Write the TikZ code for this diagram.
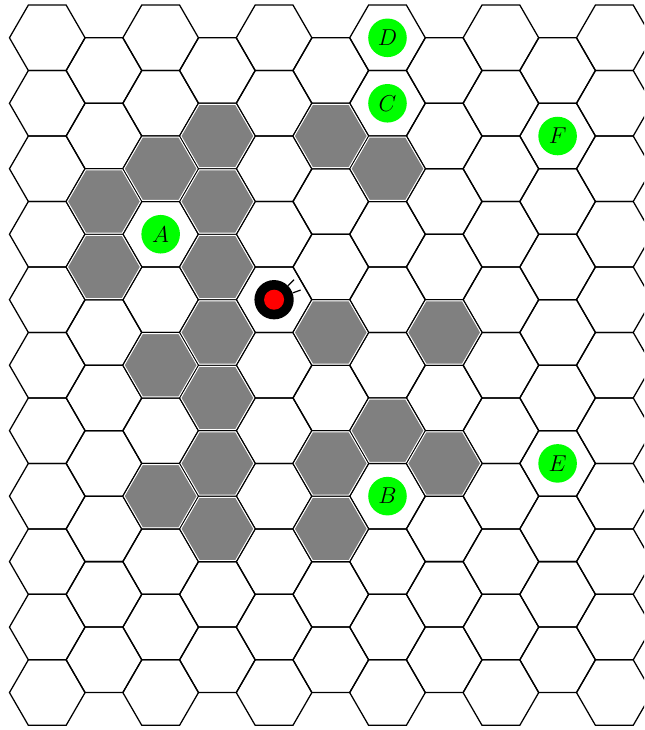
\documentclass[tikz,border=0pt]{standalone}
\usepackage{tikz}
\usetikzlibrary{shapes.geometric}

\begin{document}
\begin{tikzpicture}[
    y=-1cm,
    cell/.style={regular polygon, regular polygon sides=6, draw, line width=0.95pt, minimum size=2cm, inner sep=0pt},
    wall/.style={regular polygon, regular polygon sides=6, fill=gray, draw=white, line width=0.7pt, minimum size=1.93cm, inner sep=0pt},
    goal/.style={circle, fill=green, minimum size=1.02cm, inner sep=0pt, font=\LARGE},
    whisker/.style={line width=0.9pt}
]
    \clip (0,0) rectangle (17.04,19.31);
    \useasboundingbox (0,0) rectangle (17.04,19.31);

    % grid of cells, odd columns shifted down by half a cell
    \foreach \i in {0,...,10} {
        \pgfmathtruncatemacro{\last}{10-mod(\i,2)}
        \foreach \r in {0,...,\last}
            \node[cell] (h-\i-\r) at ({1.25+1.5*\i}, {1+0.866*mod(\i,2)+1.732*\r}) {};
    }

    % blocked cells
    \foreach \i/\r in {3/1, 2/2, 1/2, 3/2, 1/3, 3/3, 5/1, 6/2, 5/4, 7/4,
                       3/4, 2/5, 3/5, 6/6, 7/6, 5/6, 3/6, 2/7, 3/7, 5/7}
        \node[wall] (w-\i-\r) at (h-\i-\r) {};

    % goals
    \node[goal] (goalA) at (h-2-3) {$A$};
    \node[goal] (goalB) at (h-6-7) {$B$};
    \node[goal] (goalC) at (h-6-1) {$C$};
    \node[goal] (goalD) at (h-6-0) {$D$};
    \node[goal] (goalE) at (h-9-6) {$E$};
    \node[goal] (goalF) at (h-9-1) {$F$};

    % robot (y axis points down, so the angles are negative)
    \node[circle, fill=black, minimum size=1.04cm, inner sep=0pt] (robot) at (h-4-4) {};
    \node[circle, fill=red, minimum size=0.53cm, inner sep=0pt] (eye) at (robot) {};
    \draw[whisker] (robot.45) -- ++(-45:0.22);
    \draw[whisker] (robot.20) -- ++(-20:0.22);
\end{tikzpicture}
\end{document}
